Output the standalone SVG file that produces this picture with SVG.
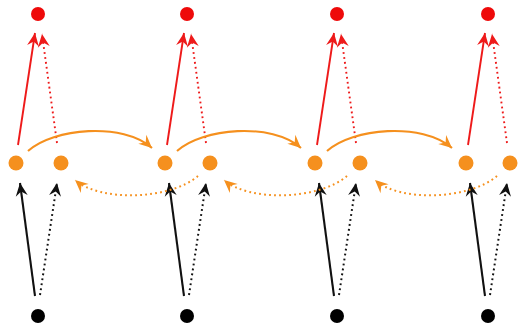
<svg xmlns="http://www.w3.org/2000/svg" width="518" height="332" viewBox="0 0 518 332">
  <style>
    .in { fill: #000; }
    .hid { fill: #f5901e; }
    .out { fill: #ee0a0a; }
    .edge { fill: none; stroke-width: 2.1; }
    .dot { stroke-dasharray: 1.8 3.2; stroke-width: 2; }
    .k { stroke: #111; }
    .r { stroke: #ee1a1a; stroke-width: 1.9; }
    .o { stroke: #f5901e; }
  </style>
  <defs>
    <marker id="ah-k" viewBox="-14 -8 15 16" refX="0" refY="0" markerWidth="15" markerHeight="16" markerUnits="userSpaceOnUse" orient="auto">
      <path d="M0,0 L-13,-6 L-8.5,0 L-13,6 Z" fill="#111"/>
    </marker>
    <marker id="ah-r" viewBox="-14 -8 15 16" refX="0" refY="0" markerWidth="15" markerHeight="16" markerUnits="userSpaceOnUse" orient="auto">
      <path d="M0,0 L-13,-6 L-8.5,0 L-13,6 Z" fill="#ee1a1a"/>
    </marker>
    <marker id="ah-o" viewBox="-14 -8 15 16" refX="0" refY="0" markerWidth="15" markerHeight="16" markerUnits="userSpaceOnUse" orient="auto">
      <path d="M0,0 L-13,-6 L-8.5,0 L-13,6 Z" fill="#f5901e"/>
    </marker>
  </defs>
  <rect width="518" height="332" fill="#fff"/>

  <g id="connectors">
    <!-- inputs to forward (solid) and backward (dotted) states -->
    <path class="edge k" d="M35,296 L20,183" marker-end="url(#ah-k)"/>
    <path class="edge k dot" d="M40,295 L57,183" marker-end="url(#ah-k)"/>
    <path class="edge k" d="M184,296 L169,183" marker-end="url(#ah-k)"/>
    <path class="edge k dot" d="M189,295 L206,183" marker-end="url(#ah-k)"/>
    <path class="edge k" d="M334,296 L319,183" marker-end="url(#ah-k)"/>
    <path class="edge k dot" d="M339,295 L356,183" marker-end="url(#ah-k)"/>
    <path class="edge k" d="M485,296 L470,183" marker-end="url(#ah-k)"/>
    <path class="edge k dot" d="M490,295 L507,183" marker-end="url(#ah-k)"/>

    <!-- states to outputs -->
    <path class="edge r" d="M18,145 L35,33" marker-end="url(#ah-r)"/>
    <path class="edge r dot" d="M57,143 L42,34" marker-end="url(#ah-r)"/>
    <path class="edge r" d="M167,145 L184,33" marker-end="url(#ah-r)"/>
    <path class="edge r dot" d="M206,143 L191,34" marker-end="url(#ah-r)"/>
    <path class="edge r" d="M317,145 L334,33" marker-end="url(#ah-r)"/>
    <path class="edge r dot" d="M356,143 L341,34" marker-end="url(#ah-r)"/>
    <path class="edge r" d="M468,145 L485,33" marker-end="url(#ah-r)"/>
    <path class="edge r dot" d="M507,143 L492,34" marker-end="url(#ah-r)"/>

    <!-- forward recurrence -->
    <path class="edge o" d="M28,151 C53,128 123,122 152,148" marker-end="url(#ah-o)"/>
    <path class="edge o" d="M177,151 C202,128 272,122 301,148" marker-end="url(#ah-o)"/>
    <path class="edge o" d="M327,151 C352,128 422,122 452,148" marker-end="url(#ah-o)"/>

    <!-- backward recurrence -->
    <path class="edge o dot" d="M198,176 C170,200 100,202 75,180" marker-end="url(#ah-o)"/>
    <path class="edge o dot" d="M347,176 C319,200 249,202 224,180" marker-end="url(#ah-o)"/>
    <path class="edge o dot" d="M497,176 C469,200 399,202 375,180" marker-end="url(#ah-o)"/>
  </g>

  <g id="y1"><circle class="out" cx="38" cy="14" r="7"/></g>
  <g id="y2"><circle class="out" cx="187" cy="14" r="7"/></g>
  <g id="y3"><circle class="out" cx="337" cy="14" r="7"/></g>
  <g id="y4"><circle class="out" cx="488" cy="14" r="7"/></g>

  <g id="hf1"><circle class="hid" cx="16" cy="163" r="7.5"/></g>
  <g id="hb1"><circle class="hid" cx="61" cy="163" r="7.5"/></g>
  <g id="hf2"><circle class="hid" cx="165" cy="163" r="7.5"/></g>
  <g id="hb2"><circle class="hid" cx="210" cy="163" r="7.5"/></g>
  <g id="hf3"><circle class="hid" cx="315" cy="163" r="7.5"/></g>
  <g id="hb3"><circle class="hid" cx="360" cy="163" r="7.5"/></g>
  <g id="hf4"><circle class="hid" cx="466" cy="163" r="7.5"/></g>
  <g id="hb4"><circle class="hid" cx="510" cy="163" r="7.5"/></g>

  <g id="x1"><circle class="in" cx="38" cy="316" r="7"/></g>
  <g id="x2"><circle class="in" cx="187" cy="316" r="7"/></g>
  <g id="x3"><circle class="in" cx="337" cy="316" r="7"/></g>
  <g id="x4"><circle class="in" cx="488" cy="316" r="7"/></g>
</svg>
